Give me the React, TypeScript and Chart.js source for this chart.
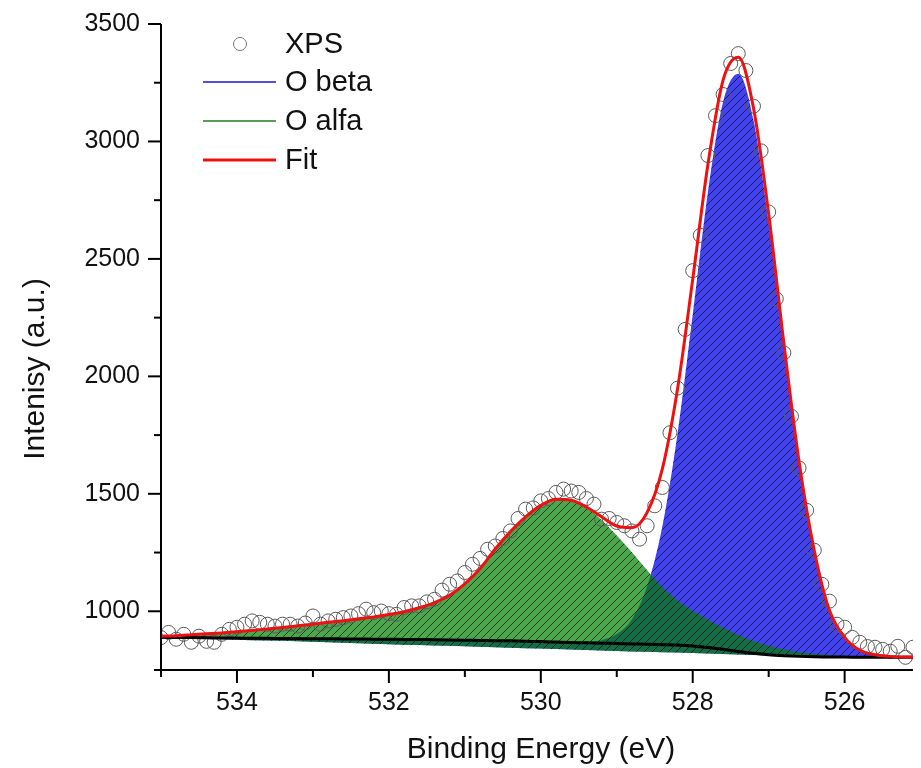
import React, { useEffect, useRef } from "react";
import { Chart, registerables } from "chart.js";

Chart.register(...registerables);

const FONT = "Arial, 'Liberation Sans', Helvetica, sans-serif";

// ---- axis / labels ----
const xTitle = "Binding Energy (eV)";
const yTitle = "Intenisy (a.u.)";
const xMajorTicks = [534, 532, 530, 528, 526];
const xMinorTicks = [535, 533, 531, 529, 527];
const yMajorTicks = [1000, 1500, 2000, 2500, 3000, 3500];
const yMinorTicks = [750, 1250, 1750, 2250, 2750, 3250];
const seriesLabels = ["XPS", "O beta", "O alfa", "Fit"];

// ---- measured XPS points ----
const xpsEnergy = [
  535.0, 534.9, 534.8, 534.7, 534.6, 534.5, 534.4, 534.3, 534.2, 534.1,
  534.0, 533.9, 533.8, 533.7, 533.6, 533.5, 533.4, 533.3, 533.2, 533.1,
  533.0, 532.9, 532.8, 532.7, 532.6, 532.5, 532.4, 532.3, 532.2, 532.1,
  532.0, 531.9, 531.8, 531.7, 531.6, 531.5, 531.4, 531.3, 531.2, 531.1,
  531.0, 530.9, 530.8, 530.7, 530.6, 530.5, 530.4, 530.3, 530.2, 530.1,
  530.0, 529.9, 529.8, 529.7, 529.6, 529.5, 529.4, 529.3, 529.2, 529.1,
  529.0, 528.9, 528.8, 528.7, 528.6, 528.5, 528.4, 528.3, 528.2, 528.1,
  528.0, 527.9, 527.8, 527.7, 527.6, 527.5, 527.4, 527.3, 527.2, 527.1,
  527.0, 526.9, 526.8, 526.7, 526.6, 526.5, 526.4, 526.3, 526.2, 526.1,
  526.0, 525.9, 525.8, 525.7, 525.6, 525.5, 525.4, 525.3, 525.2, 525.1,
];
const xpsCounts = [
  888, 910, 881, 902, 868, 894, 872, 868, 902, 923,
  932, 945, 959, 953, 945, 937, 945, 945, 937, 950,
  980, 945, 959, 966, 973, 980, 990, 1009, 994, 1001,
  990, 987, 1016, 1023, 1023, 1040, 1051, 1090, 1115, 1129,
  1165, 1200, 1225, 1264, 1278, 1310, 1342, 1395, 1435, 1440,
  1470, 1480, 1506, 1520, 1512, 1506, 1480, 1456, 1392, 1395,
  1378, 1364, 1342, 1307, 1364, 1449, 1527, 1760, 1950, 2200,
  2450, 2600, 2940, 3110, 3200, 3332, 3374, 3302, 3150, 2960,
  2700, 2330, 2100, 1830, 1610, 1430, 1260, 1115, 1043, 945,
  932, 889, 868, 850, 847, 838, 830, 851, 804, 847,
];

// ---- fitted curves on a 0.2 eV grid ----
const fitEnergy = [
  535.0, 534.8, 534.6, 534.4, 534.2, 534.0, 533.8, 533.6, 533.4, 533.2,
  533.0, 532.8, 532.6, 532.4, 532.2, 532.0, 531.8, 531.6, 531.4, 531.2,
  531.0, 530.8, 530.6, 530.4, 530.2, 530.0, 529.8, 529.6, 529.4, 529.2,
  529.0, 528.8, 528.6, 528.4, 528.2, 528.0, 527.8, 527.6, 527.4, 527.2,
  527.0, 526.8, 526.6, 526.4, 526.2, 526.0, 525.8, 525.6, 525.4, 525.2,
  525.0,
];
const shirleyBackground = [
  889, 888, 888, 887, 886, 886, 885, 885, 884, 884,
  883, 883, 882, 882, 881, 881, 880, 880, 879, 878,
  877, 876, 875, 874, 872, 871, 869, 867, 866, 864,
  863, 861, 860, 858, 856, 852, 846, 838, 829, 821,
  815, 811, 808, 806, 805, 805, 804, 804, 804, 804,
  804,
];
const linearBaseline = [
  889, 887, 885, 883, 881, 879, 877, 876, 874, 872,
  870, 868, 866, 864, 862, 860, 858, 856, 854, 853,
  851, 849, 847, 845, 843, 841, 839, 837, 835, 833,
  831, 829, 828, 826, 824, 822, 820, 818, 816, 814,
  812, 809, 807, 805, 804, 803, 803, 803, 803, 803,
  803,
];
const oAlfa = [
  5, 8, 12, 17, 22, 27, 33, 40, 47, 54,
  62, 70, 78, 86, 95, 105, 118, 135, 158, 190,
  240, 305, 390, 465, 530, 580, 608, 605, 575, 525,
  460, 390, 315, 245, 190, 150, 118, 92, 70, 52,
  38, 27, 19, 13, 9, 6, 4, 3, 2, 1,
  1,
];
const oBeta = [
  0, 0, 0, 0, 0, 0, 0, 0, 0, 0,
  0, 0, 0, 0, 0, 0, 0, 0, 0, 0,
  0, 0, 0, 0, 0, 0, 0, 1, 3, 13,
  40, 105, 246, 503, 900, 1411, 1938, 2331, 2459, 2270,
  1838, 1303, 810, 440, 190, 78, 26, 8, 2, 0,
  0,
];

function hatch(color: string): CanvasPattern | string {
  const c = document.createElement("canvas");
  c.width = 8;
  c.height = 8;
  const g = c.getContext("2d");
  if (!g) return color;
  g.fillStyle = color;
  g.fillRect(0, 0, 8, 8);
  g.strokeStyle = "rgba(0,0,0,0.6)";
  g.lineWidth = 1;
  g.beginPath();
  g.moveTo(-1, 9);
  g.lineTo(9, -1);
  g.moveTo(-1, 1);
  g.lineTo(1, -1);
  g.moveTo(7, 9);
  g.lineTo(9, 7);
  g.stroke();
  return g.createPattern(c, "repeat") || color;
}

const decorPlugin = {
  id: "xpsDecor",
  afterDraw(chart: any) {
    const { ctx, chartArea } = chart;
    const xs = chart.scales.x;
    const ys = chart.scales.y;
    const { left, right, top, bottom } = chartArea;
    ctx.save();
    ctx.strokeStyle = "#000";
    ctx.lineWidth = 2;
    ctx.beginPath();
    ctx.moveTo(left, top);
    ctx.lineTo(left, bottom);
    ctx.lineTo(right, bottom);
    ctx.stroke();

    const seg = (x1: number, y1: number, x2: number, y2: number) => {
      ctx.beginPath();
      ctx.moveTo(x1, y1);
      ctx.lineTo(x2, y2);
      ctx.stroke();
    };
    xMajorTicks.forEach((v) => {
      const p = xs.getPixelForValue(v);
      seg(p, bottom, p, bottom + 13);
    });
    xMinorTicks.forEach((v) => {
      const p = xs.getPixelForValue(v);
      seg(p, bottom, p, bottom + 7);
    });
    yMajorTicks.forEach((v) => {
      const p = ys.getPixelForValue(v);
      seg(left - 13, p, left, p);
    });
    yMinorTicks.forEach((v) => {
      const p = ys.getPixelForValue(v);
      seg(left - 7, p, left, p);
    });

    // axis titles
    ctx.fillStyle = "#111";
    ctx.font = `30px ${FONT}`;
    ctx.textAlign = "center";
    ctx.textBaseline = "alphabetic";
    ctx.fillText(xTitle, (left + right) / 2 + 4, chart.height - 10);
    ctx.save();
    ctx.translate(44, (top + bottom) / 2 + 22);
    ctx.rotate(-Math.PI / 2);
    ctx.fillText(yTitle, 0, 0);
    ctx.restore();

    // legend
    ctx.font = `29px ${FONT}`;
    ctx.textAlign = "left";
    ctx.textBaseline = "middle";
    const tx = left + 124;
    ctx.beginPath();
    ctx.arc(left + 79, top + 20, 6.5, 0, Math.PI * 2);
    ctx.strokeStyle = "#777";
    ctx.lineWidth = 1;
    ctx.stroke();
    ctx.fillStyle = "#111";
    ctx.fillText(seriesLabels[0], tx, top + 21);
    const rows: [string, string, number, number][] = [
      [seriesLabels[1], "#5050dc", 2, top + 58],
      [seriesLabels[2], "#55a055", 2, top + 97],
      [seriesLabels[3], "#ee1111", 3, top + 136],
    ];
    rows.forEach(([lab, col, w, y]) => {
      ctx.strokeStyle = col;
      ctx.lineWidth = w;
      seg(left + 42, y, left + 115, y);
      ctx.fillText(lab, tx, y + 1);
    });
    ctx.restore();
  },
};

export default function App() {
  const ref = useRef<HTMLCanvasElement | null>(null);

  useEffect(() => {
    if (!ref.current) return;
    const xps = xpsEnergy.map((x, i) => ({ x, y: xpsCounts[i] }));
    const bg = fitEnergy.map((x, i) => ({ x, y: shirleyBackground[i] }));
    const base = fitEnergy.map((x, i) => ({ x, y: linearBaseline[i] }));
    const alfa = fitEnergy.map((x, i) => ({ x, y: shirleyBackground[i] + oAlfa[i] }));
    const beta = fitEnergy.map((x, i) => ({ x, y: shirleyBackground[i] + oBeta[i] }));
    const fit = fitEnergy.map((x, i) => ({
      x,
      y: shirleyBackground[i] + oAlfa[i] + oBeta[i],
    }));

    const chart = new Chart(ref.current, {
      type: "line",
      data: {
        datasets: [
          {
            label: "Fit",
            data: fit,
            borderColor: "#ee1111",
            borderWidth: 3,
            pointRadius: 0,
            fill: false,
            cubicInterpolationMode: "monotone",
            order: 0,
          },
          {
            label: "Background",
            data: bg,
            borderColor: "#000",
            borderWidth: 3,
            pointRadius: 0,
            fill: false,
            cubicInterpolationMode: "monotone",
            order: 1,
          },
          {
            label: "XPS",
            data: xps,
            showLine: false,
            pointRadius: 7,
            pointBorderColor: "#5a5a5a",
            pointBackgroundColor: "rgba(0,0,0,0)",
            pointBorderWidth: 1,
            order: 2,
          },
          {
            label: "O alfa",
            data: alfa,
            borderColor: "rgba(0,0,0,0)",
            borderWidth: 0,
            pointRadius: 0,
            fill: 5,
            backgroundColor: hatch("rgba(0,128,0,0.7)") as any,
            cubicInterpolationMode: "monotone",
            order: 3,
          },
          {
            label: "O beta",
            data: beta,
            borderColor: "rgba(0,0,0,0)",
            borderWidth: 0,
            pointRadius: 0,
            fill: 5,
            backgroundColor: hatch("rgb(66,66,238)") as any,
            cubicInterpolationMode: "monotone",
            order: 4,
          },
          {
            label: "base",
            data: base,
            borderColor: "rgba(0,0,0,0)",
            borderWidth: 0,
            pointRadius: 0,
            fill: false,
            order: 5,
          },
        ],
      },
      options: {
        animation: false,
        responsive: true,
        maintainAspectRatio: false,
        devicePixelRatio: 1,
        layout: { padding: { top: 0, right: 0, left: 0, bottom: 0 } },
        plugins: {
          legend: { display: false },
          tooltip: { enabled: false },
        },
        scales: {
          x: {
            type: "linear",
            reverse: true,
            min: 525.1,
            max: 535,
            grid: { display: false, drawTicks: false },
            border: { display: false },
            ticks: {
              stepSize: 1,
              includeBounds: false,
              autoSkip: false,
              maxRotation: 0,
              padding: 18,
              color: "#111",
              font: { family: FONT, size: 25 },
              callback: (v: any) => (xMajorTicks.includes(Number(v)) ? String(v) : ""),
            },
            afterFit: (s: any) => {
              s.height = 98;
            },
          },
          y: {
            type: "linear",
            min: 750,
            max: 3500,
            grid: {
              display: true,
              drawOnChartArea: false,
              drawTicks: true,
              tickLength: 12,
              tickColor: "rgba(0,0,0,0)",
              color: "rgba(0,0,0,0)",
            },
            border: { display: false },
            ticks: {
              stepSize: 250,
              autoSkip: false,
              padding: 9,
              color: "#111",
              font: { family: FONT, size: 25 },
              callback: (v: any) => (yMajorTicks.includes(Number(v)) ? String(v) : ""),
            },
            afterFit: (s: any) => {
              s.width = 161;
            },
          },
        },
      },
      plugins: [decorPlugin],
    });
    return () => chart.destroy();
  }, []);

  return (
    <div
      style={{
        position: "fixed",
        left: 0,
        top: 0,
        width: 921,
        height: 768,
        background: "#fff",
      }}
    >
      <canvas ref={ref} />
    </div>
  );
}
